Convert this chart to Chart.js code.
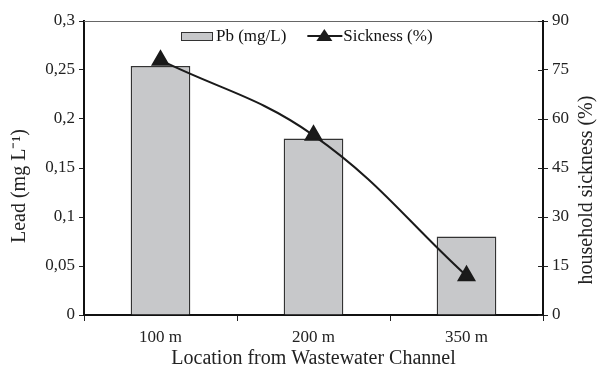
<!DOCTYPE html>
<html>
<head>
<meta charset="utf-8">
<script src="https://cdn.jsdelivr.net/npm/chart.js@4"></script>
<style>
  body { margin: 0; background: #fff; }
  #wrap { width: 602px; height: 371px; }
</style>
</head>
<body>
<div id="wrap"><canvas id="chart" width="602" height="371"></canvas></div>
<script>
// Data
const locations = ['100 m', '200 m', '350 m'];
const leadValues = [0.254, 0.18, 0.08];
const sicknessValues = [78, 55, 12];
const leadTicks = [0, 0.05, 0.1, 0.15, 0.2, 0.25, 0.3];
const sicknessTicks = [0, 15, 30, 45, 60, 75, 90];
const leftTitle = 'Lead (mg L\u207B\u00B9)';
const rightTitle = 'household sickness (%)';

const serif = '"Liberation Serif", "Times New Roman", serif';

// legend drawn inside the plot, line + triangle for the sickness series
const innerLegend = {
    id: 'innerLegend',
    afterDraw(chart) {
        const ctx = chart.ctx;
        const area = chart.chartArea;
        const y = area.top + 15;
        const bar = chart.data.datasets.find(d => d.type === 'bar');
        const line = chart.data.datasets.find(d => d.type === 'line');
        ctx.save();
        ctx.font = '17px ' + serif;
        ctx.textBaseline = 'middle';

        let x = 181;
        const w1 = ctx.measureText(bar.label).width;
        ctx.fillStyle = bar.backgroundColor;
        ctx.strokeStyle = bar.borderColor;
        ctx.lineWidth = 1;
        ctx.fillRect(x, y - 4, 32, 9);
        ctx.strokeRect(x + 0.5, y - 3.5, 31, 8);
        x += 35;
        ctx.fillStyle = '#111';
        ctx.fillText(bar.label, x, y + 1);
        x += w1 + 21;

        ctx.strokeStyle = line.borderColor;
        ctx.lineWidth = 2;
        ctx.beginPath();
        ctx.moveTo(x, y);
        ctx.lineTo(x + 35, y);
        ctx.stroke();
        ctx.fillStyle = line.pointBackgroundColor;
        ctx.beginPath();
        ctx.moveTo(x + 17, y - 7);
        ctx.lineTo(x + 25, y + 5);
        ctx.lineTo(x + 9, y + 5);
        ctx.closePath();
        ctx.fill();
        x += 36;
        ctx.fillStyle = '#111';
        ctx.fillText(line.label, x, y + 1);
        ctx.restore();
    }
};

// top border, inner ticks on the right axis, and both vertical titles
const frameExtras = {
    id: 'frameExtras',
    afterDraw(chart) {
        const ctx = chart.ctx;
        const a = chart.chartArea;
        const y1 = chart.scales.y1;
        ctx.save();
        ctx.strokeStyle = '#666';
        ctx.lineWidth = 1;
        ctx.beginPath();
        ctx.moveTo(a.left, a.top + 0.5);
        ctx.lineTo(a.right, a.top + 0.5);
        ctx.stroke();

        ctx.strokeStyle = '#222';
        ctx.beginPath();
        sicknessTicks.forEach(v => {
            const py = Math.round(y1.getPixelForValue(v)) + 0.5;
            ctx.moveTo(a.right - 5, py);
            ctx.lineTo(a.right, py);
        });
        ctx.stroke();

        ctx.font = '20px ' + serif;
        ctx.fillStyle = '#222';
        ctx.textAlign = 'center';
        ctx.textBaseline = 'middle';
        const midY = (a.top + a.bottom) / 2 + 18;

        ctx.save();
        ctx.translate(20, midY);
        ctx.rotate(-Math.PI / 2);
        ctx.fillText(leftTitle, 0, 0);
        ctx.restore();

        ctx.translate(chart.width - 15, midY + 4);
        ctx.rotate(-Math.PI / 2);
        ctx.fillText(rightTitle, 0, 0);
        ctx.restore();
    }
};

new Chart(document.getElementById('chart'), {
    data: {
        labels: locations,
        datasets: [
            {
                type: 'line',
                label: 'Sickness (%)',
                data: sicknessValues,
                yAxisID: 'y1',
                borderColor: '#1a1a1a',
                borderWidth: 2,
                tension: 0.4,
                pointStyle: 'triangle',
                pointRadius: 9,
                pointBackgroundColor: '#1a1a1a',
                pointBorderColor: '#1a1a1a',
                fill: false,
                order: 0
            },
            {
                type: 'bar',
                label: 'Pb (mg/L)',
                data: leadValues,
                yAxisID: 'y',
                backgroundColor: '#c7c8ca',
                borderColor: '#333',
                borderWidth: 1.5,
                barPercentage: 0.39,
                categoryPercentage: 1,
                order: 1
            }
        ]
    },
    options: {
        responsive: false,
        animation: false,
        layout: { padding: { top: 21, left: 0, right: 0, bottom: 0 } },
        plugins: {
            legend: { display: false },
            tooltip: { enabled: false }
        },
        scales: {
            x: {
                type: 'category',
                offset: true,
                grid: { offset: true, drawOnChartArea: false, tickLength: 6, color: '#222', lineWidth: 1 },
                border: { color: '#111', width: 2 },
                ticks: { color: '#222', font: { family: serif, size: 17 }, padding: 6 },
                title: { display: true, text: 'Location from Wastewater Channel', color: '#222', font: { family: serif, size: 20 }, padding: { top: 0, bottom: 0 } },
                afterFit(scale) { scale.height = 56; }
            },
            y: {
                position: 'left',
                min: 0,
                max: 0.3,
                afterBuildTicks(scale) { scale.ticks = leadTicks.map(v => ({ value: v })); },
                grid: { drawOnChartArea: false, tickLength: 5, color: '#222' },
                border: { color: '#111', width: 2 },
                ticks: {
                    color: '#222',
                    font: { family: serif, size: 17 },
                    padding: 4,
                    callback: v => String(v).replace('.', ',')
                },
                title: { display: false },
                afterFit(scale) { scale.width = 84; }
            },
            y1: {
                position: 'right',
                min: 0,
                max: 90,
                afterBuildTicks(scale) { scale.ticks = sicknessTicks.map(v => ({ value: v })); },
                grid: { drawOnChartArea: false, tickLength: 5, color: '#222' },
                border: { color: '#111', width: 2 },
                ticks: { color: '#222', font: { family: serif, size: 17 }, padding: 4 },
                title: { display: false },
                afterFit(scale) { scale.width = 59; }
            }
        }
    },
    plugins: [innerLegend, frameExtras]
});
</script>
</body>
</html>
